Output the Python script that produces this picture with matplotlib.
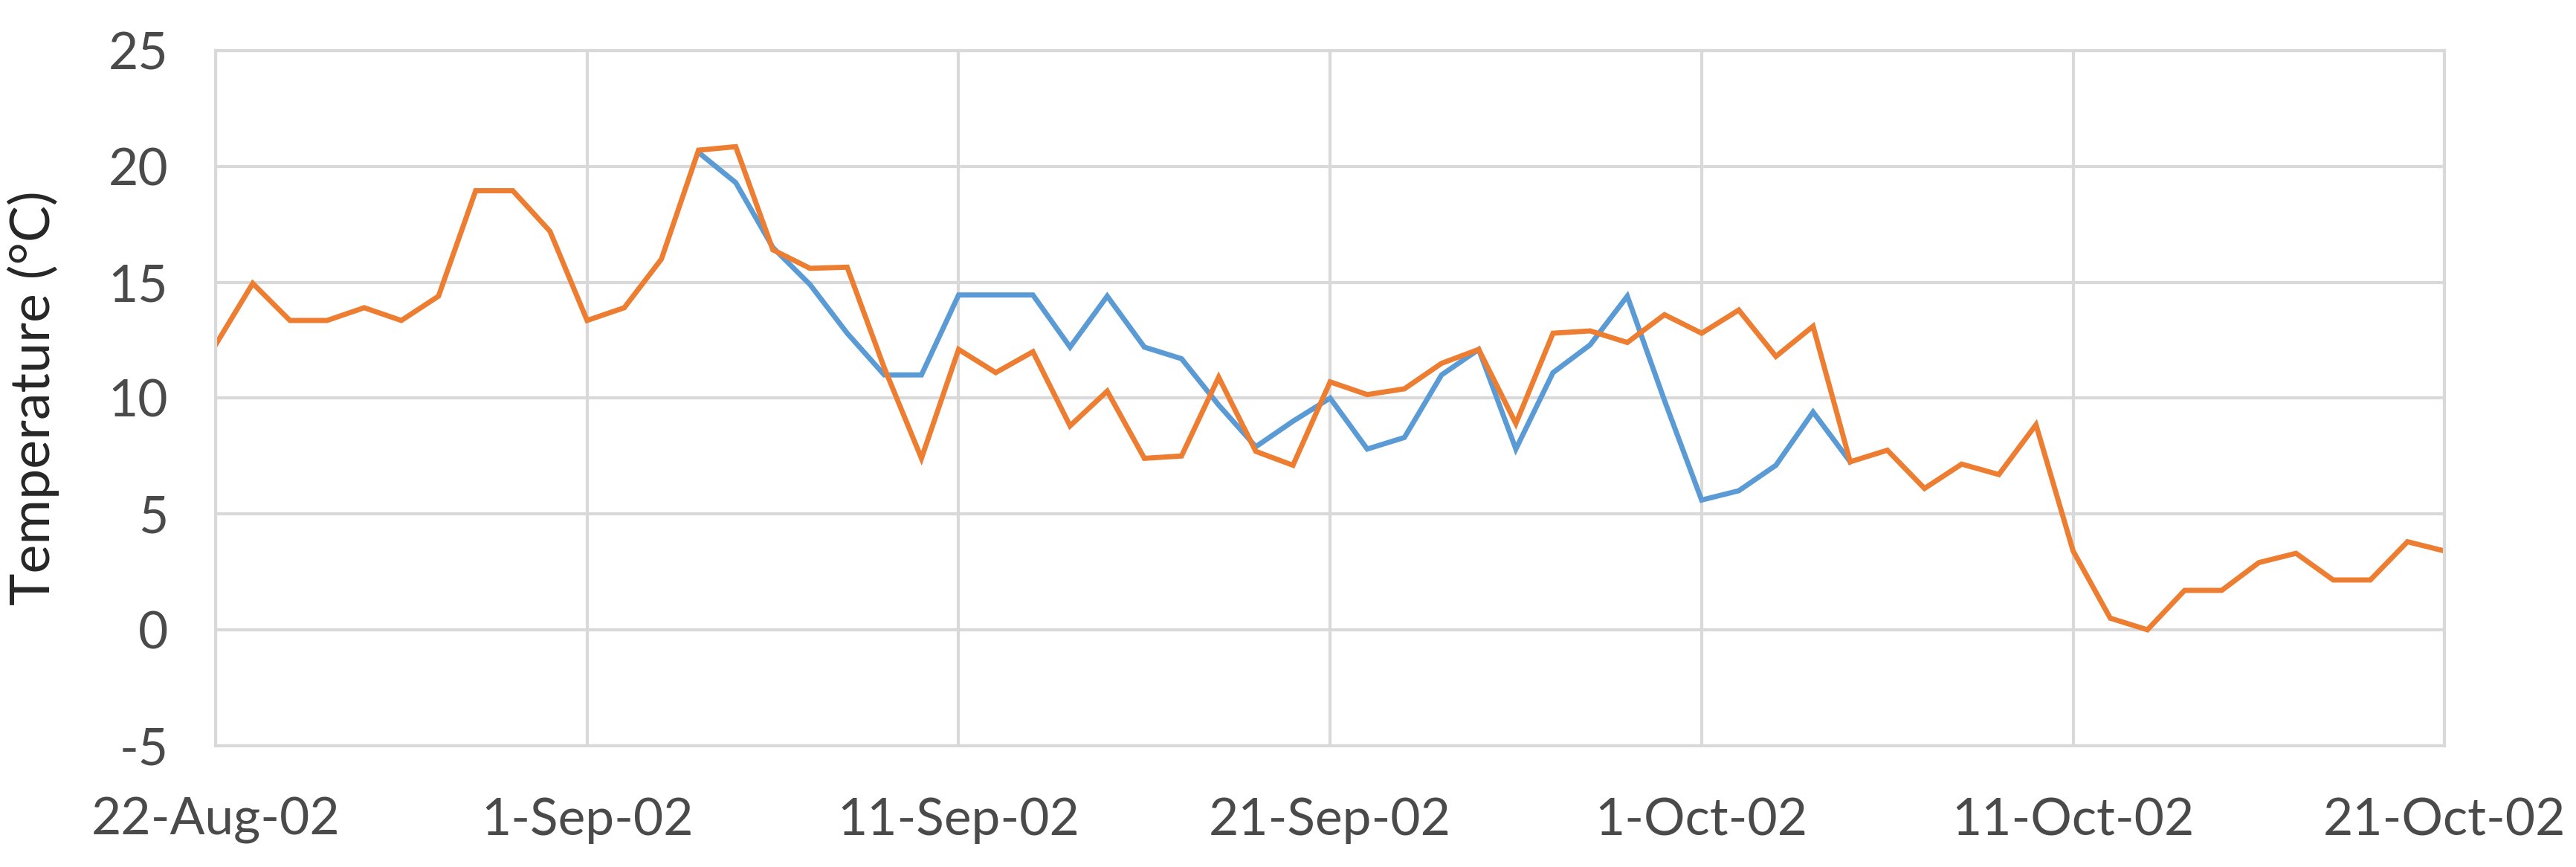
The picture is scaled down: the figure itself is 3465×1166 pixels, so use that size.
import matplotlib
matplotlib.use("Agg")
import matplotlib.pyplot as plt
import matplotlib.dates as mdates
import datetime as dt

plt.rcParams['font.family'] = ['Lato', 'DejaVu Sans']
plt.rcParams['axes.unicode_minus'] = False

# daily temperatures (deg C), 22-Aug-02 .. 21-Oct-02
start_orange = dt.date(2002, 8, 22)
orange_temp = [12.3, 14.95, 13.35, 13.35, 13.9, 13.35, 14.4, 18.95, 18.95, 17.2,
               13.35, 13.9, 16.0, 20.7, 20.85, 16.4, 15.6, 15.65, 11.3, 7.4,
               12.1, 11.1, 12.0, 8.8, 10.3, 7.4, 7.5, 10.9, 7.7, 7.1,
               10.7, 10.15, 10.4, 11.5, 12.1, 8.9, 12.8, 12.9, 12.4, 13.6,
               12.8, 13.8, 11.8, 13.1, 7.25, 7.75, 6.1, 7.15, 6.7, 8.85,
               3.4, 0.5, 0.0, 1.7, 1.7, 2.9, 3.3, 2.15, 2.15, 3.8,
               3.4]

# second series, only where it differs (4-Sep-02 .. 5-Oct-02)
start_blue = dt.date(2002, 9, 4)
blue_temp = [20.6, 19.3, 16.5, 14.9, 12.8, 11.0, 11.0, 14.45, 14.45, 14.45,
             12.2, 14.4, 12.2, 11.7, 9.7, 7.9, 9.0, 10.0, 7.8, 8.3,
             11.0, 12.1, 7.8, 11.1, 12.3, 14.4, 9.9, 5.6, 6.0, 7.1,
             9.4, 7.25]

y_ticks = [-5, 0, 5, 10, 15, 20, 25]

orange_dates = [start_orange + dt.timedelta(days=i) for i in range(len(orange_temp))]
blue_dates = [start_blue + dt.timedelta(days=i) for i in range(len(blue_temp))]

fig = plt.figure(figsize=(34.65, 11.66), dpi=100)
ax = fig.add_axes([0.0837, 0.140, 0.8653, 0.8017])

ax.plot(blue_dates, blue_temp, color='#5B9BD5', lw=5, solid_joinstyle='miter')
ax.plot(orange_dates, orange_temp, color='#ED7D31', lw=5, solid_joinstyle='miter')

ax.set_xlim(dt.date(2002, 8, 22), dt.date(2002, 10, 21))
ax.set_ylim(-5, 25)
ax.set_yticks(y_ticks)
ticks = [dt.date(2002, 8, 22) + dt.timedelta(days=10 * i) for i in range(7)]
ax.set_xticks(ticks)
ax.xaxis.set_major_formatter(mdates.DateFormatter('%-d-%b-%y'))

ax.grid(True, color='#d9d9d9', lw=3)
ax.set_axisbelow(True)
for s in ax.spines.values():
    s.set_color('#d9d9d9')
    s.set_linewidth(3)

ax.tick_params(length=0, labelsize=50, labelcolor='#4a4a4a')
ax.tick_params(axis='y', pad=46)
ax.tick_params(axis='x', pad=50)

ax.set_ylabel('Temperature (°C)', fontsize=53, color='#262626')
ax.yaxis.set_label_coords(-0.070, 0.5)

fig.savefig('out.png', dpi=100, facecolor='white')
